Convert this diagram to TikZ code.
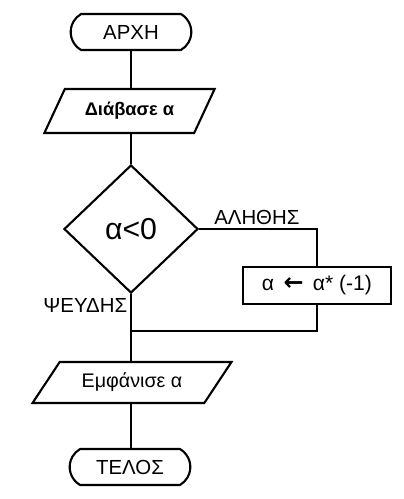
\documentclass[tikz,border=0pt]{standalone}
\usepackage{fontspec}
\setmainfont{Liberation Sans}
\newfontfamily\arrowfont{DejaVu Sans}
\usepackage{tikz}
\usetikzlibrary{shapes, shapes.geometric, shapes.misc, positioning, calc}

\begin{document}
\begin{tikzpicture}[x=0.025cm, y=-0.025cm,
    every path/.style={line width=1.5pt},
    terminal/.style={draw, rounded rectangle, rounded rectangle arc length=120, minimum width=3.25cm, minimum height=0.9cm, font=\fontsize{14.5}{16}\selectfont},
    iobox/.style={draw, trapezium, trapezium stretches=true, inner sep=0pt},
    lbl/.style={font=\fontsize{14.5}{16}\selectfont, inner sep=2pt}]
    \useasboundingbox (0,0) rectangle (403,499);

    % start and input
    \node[terminal] (start) at (131,32) {ΑΡΧΗ};
    \node[iobox, trapezium left angle=50.7, trapezium right angle=129.3,
          minimum width=4.275cm, minimum height=1.1cm,
          font=\bfseries\fontsize{13}{15}\selectfont] (read) at (129.5,111) {Διάβασε α};

    % decision
    \node[draw, diamond, minimum width=3.35cm, minimum height=3.2cm, inner sep=0pt,
          font=\fontsize{21.5}{23}\selectfont] (test) at (131,229) {α<0};

    % process
    \node[draw, minimum width=3.7cm, minimum height=0.925cm,
          font=\fontsize{15}{17}\selectfont] (swap) at (317,285.5)
          {α\, {\arrowfont\bfseries\fontsize{17}{17}\selectfont ←}\, α* (-1)};

    % output and end
    \node[iobox, trapezium left angle=45, trapezium right angle=135,
          minimum width=5cm, minimum height=1.025cm,
          font=\fontsize{14}{16}\selectfont] (show) at (132,382.5) {Εμφάνισε α};
    \node[terminal] (stop) at (130,467) {ΤΕΛΟΣ};

    \coordinate (merge) at (131,331);

    % connectors
    \draw (start.south) -- (start.south |- read.north);
    \draw (test.north |- read.south) -- (test.north);
    \draw (test.east) -- node[lbl, above, pos=0.49] (yes) {ΑΛΗΘΗΣ} (swap.north |- test.east) -- (swap.north);
    \draw (test.south) -- node[lbl, left, pos=0.17] (no) {ΨΕΥΔΗΣ} (test.south |- show.north);
    \draw (swap.south) |- (merge);
    \draw (test.south |- show.south) -- (test.south |- stop.north);
\end{tikzpicture}
\end{document}
